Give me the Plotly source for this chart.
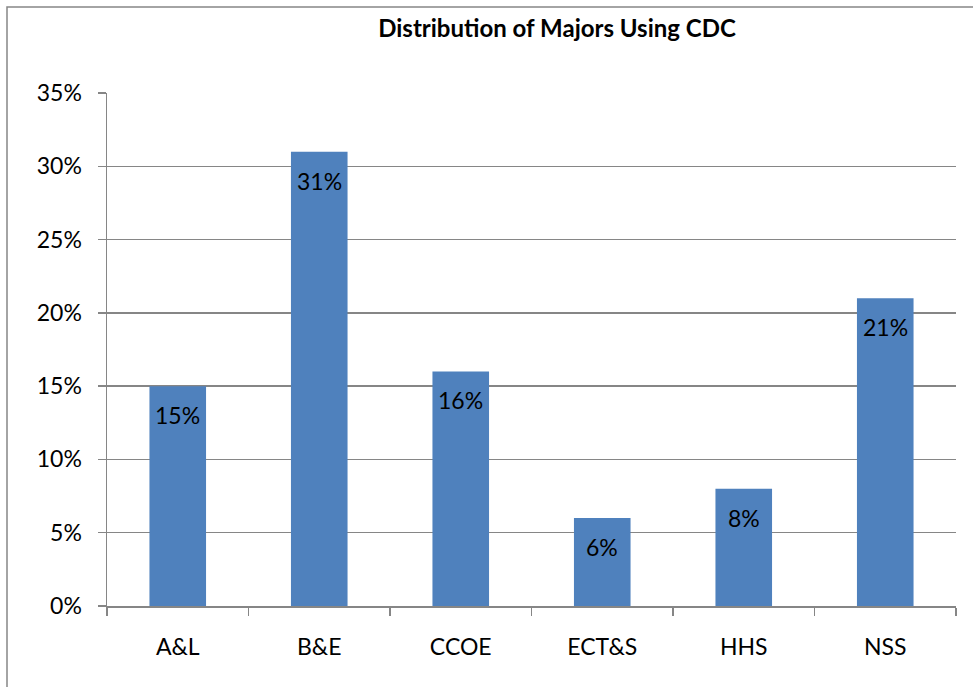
import plotly.graph_objects as go

categories = ["A&L", "B&E", "CCOE", "ECT&S", "HHS", "NSS"]
values = [0.15, 0.31, 0.16, 0.06, 0.08, 0.21]
labels = ["15%", "31%", "16%", "6%", "8%", "21%"]
y_ticks = [0, 0.05, 0.10, 0.15, 0.20, 0.25, 0.30, 0.35]
y_tick_labels = ["0%", "5%", "10%", "15%", "20%", "25%", "30%", "35%"]
title_text = "Distribution of Majors Using CDC"

W, H = 973, 687
L, R, T, B = 107, 17, 93, 81
pw, ph = W - L - R, H - T - B
FONT = "Lato"
GRAY = "#868686"
FS = 23

fig = go.Figure()
fig.add_trace(go.Bar(
    x=categories, y=values,
    marker=dict(color="#4F81BD", line=dict(width=0)),
    hoverinfo="skip",
))

for c, v, t in zip(categories, values, labels):
    fig.add_annotation(x=c, y=v, text=t, showarrow=False, yanchor="middle",
                       yshift=-29, font=dict(family=FONT, size=FS, color="black"))

# outer chart border
fig.add_shape(type="rect", xref="paper", yref="paper",
              x0=(7 - L) / pw, x1=(W + 10 - L) / pw,
              y0=-(H + 10 - T - ph) / ph, y1=1 + (T - 7) / ph,
              line=dict(color=GRAY, width=1.5), layer="below")

fig.update_layout(
    width=W, height=H,
    margin=dict(l=L, r=R, t=T, b=B, autoexpand=False),
    paper_bgcolor="white", plot_bgcolor="white",
    bargap=0.6,
    showlegend=False,
    title=dict(text="<b>" + title_text + "</b>", x=557 / W, xanchor="center",
               xref="container", y=1 - 29 / H, yanchor="middle", yref="container",
               font=dict(family=FONT, size=24, color="black")),
    font=dict(family=FONT, size=FS, color="black"),
)
fig.update_xaxes(
    type="category", showgrid=False, showline=True, linecolor=GRAY, linewidth=1.5,
    ticks="outside", ticklen=8, tickcolor=GRAY, tickwidth=1.5, tickson="boundaries",
    ticklabelstandoff=20, tickfont=dict(family=FONT, size=FS, color="black"),
)
fig.update_yaxes(
    range=[0, 0.35], tickvals=y_ticks, ticktext=y_tick_labels,
    showgrid=True, gridcolor=GRAY, gridwidth=1.5, zeroline=False,
    showline=True, linecolor=GRAY, linewidth=1.5,
    ticks="outside", ticklen=8, tickcolor=GRAY, tickwidth=1.5,
    ticklabelstandoff=11, tickfont=dict(family=FONT, size=FS, color="black"),
)

fig.write_html("out.html", config={"displayModeBar": False, "staticPlot": True},
               post_script="document.body.style.margin='0';document.body.style.overflow='hidden';")
